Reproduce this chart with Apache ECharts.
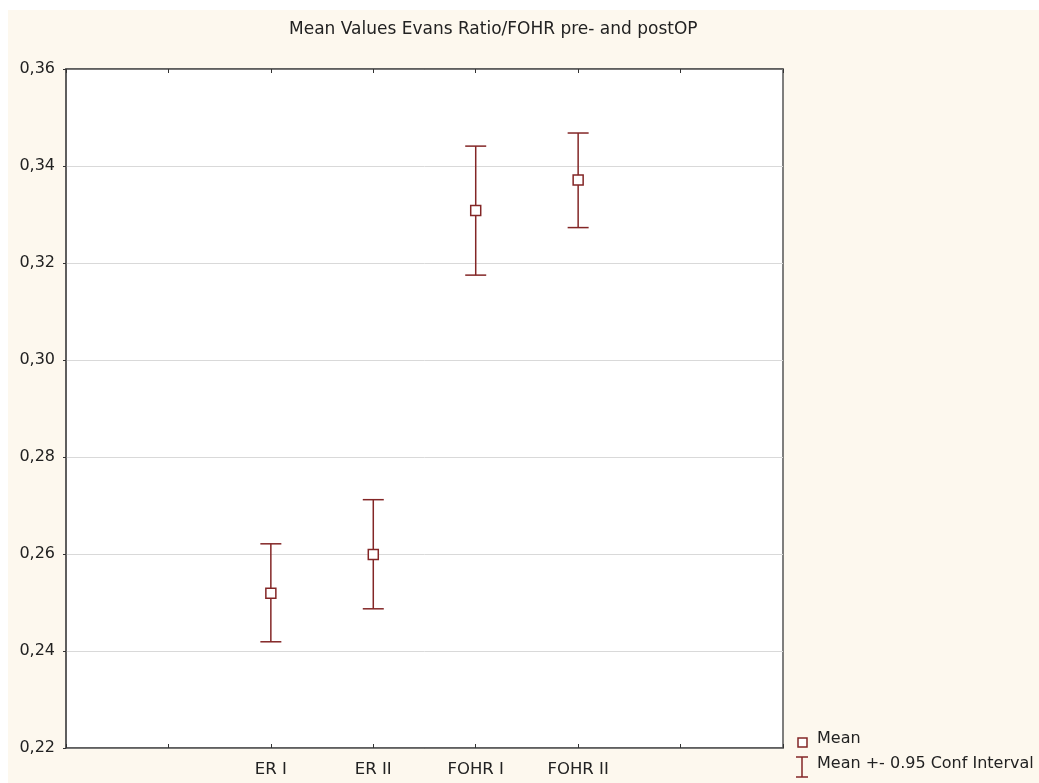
<!DOCTYPE html>
<html>
<head>
<meta charset="utf-8">
<script src="https://cdn.jsdelivr.net/npm/echarts@6/dist/echarts.min.js"></script>
<style>
html,body{margin:0;padding:0;background:#fff;width:1039px;height:783px;overflow:hidden;}
#chart{position:absolute;left:8px;top:10px;width:1031px;height:773px;}
</style>
</head>
<body>
<div id="chart"></div>
<script>
const titleText = 'Mean Values Evans Ratio/FOHR pre- and postOP';
const categories = ['ER I', 'ER II', 'FOHR I', 'FOHR II'];
const axisSlots = ['', '', 'ER I', 'ER II', 'FOHR I', 'FOHR II', '', ''];
const meanValues = [0.2519, 0.2599, 0.3308, 0.3371];
const lowerCI = [0.2419, 0.2487, 0.3175, 0.3273];
const upperCI = [0.2621, 0.2712, 0.3441, 0.3468];
const yMin = 0.22, yMax = 0.36, yStep = 0.02;
const legendNames = ['Mean', 'Mean +- 0.95 Conf Interval'];

const red = '#832626';
const font = '"DejaVu Sans", Arial, sans-serif';

const chart = echarts.init(document.getElementById('chart'));

const errData = categories.map((c, i) => [c, lowerCI[i], upperCI[i]]);
const meanData = categories.map((c, i) => [c, meanValues[i]]);

chart.setOption({
  backgroundColor: '#fdf8ee',
  animation: false,
  textStyle: { fontFamily: font },
  grid: {
    left: 58, right: 256, top: 59, bottom: 35,
    show: true, backgroundColor: '#ffffff', borderColor: '#555', borderWidth: 1.5
  },
  xAxis: [{
    type: 'category',
    data: axisSlots,
    boundaryGap: false,
    axisLine: { lineStyle: { color: '#555', width: 1.5 } },
    axisTick: { inside: true, length: 4, lineStyle: { color: '#333' }, interval: 0 },
    axisLabel: { color: '#222', fontSize: 16.5, margin: 13, interval: 0, fontFamily: font },
    splitLine: { show: false }
  }, {
    type: 'category',
    position: 'top',
    data: axisSlots,
    boundaryGap: false,
    axisLine: { lineStyle: { color: '#555', width: 1.5 } },
    axisTick: { inside: true, length: 4, lineStyle: { color: '#333' }, interval: 0 },
    axisLabel: { show: false },
    splitLine: { show: false }
  }],
  yAxis: {
    type: 'value',
    min: yMin, max: yMax, interval: yStep,
    axisLine: { show: true, lineStyle: { color: '#555', width: 1.5 } },
    axisTick: { show: true, length: 3, lineStyle: { color: '#333' } },
    axisLabel: {
      color: '#222', fontSize: 16, margin: 11, fontFamily: font,
      formatter: v => v.toFixed(2).replace('.', ',')
    },
    splitLine: { show: true, lineStyle: { color: '#d9d9d9', width: 1 } }
  },
  graphic: [
    { type: 'text', left: 281, top: 11,
      style: { text: titleText, font: '17px ' + font, fill: '#222' } },
    { type: 'rect', shape: { x: 790, y: 728, width: 9, height: 9 },
      style: { fill: '#fff', stroke: red, lineWidth: 1.5 } },
    { type: 'text', x: 809, y: 729, style: { text: legendNames[0], font: '16px ' + font, fill: '#222', verticalAlign: 'middle' } },
    { type: 'polyline', shape: { points: [[788, 747], [800, 747]] }, style: { stroke: red, lineWidth: 1.5 } },
    { type: 'polyline', shape: { points: [[794, 747], [794, 767]] }, style: { stroke: red, lineWidth: 1.5 } },
    { type: 'polyline', shape: { points: [[788, 767], [800, 767]] }, style: { stroke: red, lineWidth: 1.5 } },
    { type: 'text', x: 809, y: 754, style: { text: legendNames[1], font: '16px ' + font, fill: '#222', verticalAlign: 'middle' } }
  ],
  series: [{
    type: 'custom',
    name: legendNames[1],
    data: errData,
    z: 2,
    renderItem: function (params, api) {
      const x = api.value(0);
      const lo = api.coord([x, api.value(1)]);
      const hi = api.coord([x, api.value(2)]);
      const hw = 10.5;
      const st = { stroke: red, lineWidth: 1.5, fill: null };
      return {
        type: 'group',
        children: [
          { type: 'line', shape: { x1: lo[0], y1: lo[1], x2: hi[0], y2: hi[1] }, style: st },
          { type: 'line', shape: { x1: lo[0] - hw, y1: lo[1], x2: lo[0] + hw, y2: lo[1] }, style: st },
          { type: 'line', shape: { x1: hi[0] - hw, y1: hi[1], x2: hi[0] + hw, y2: hi[1] }, style: st }
        ]
      };
    }
  }, {
    type: 'scatter',
    name: legendNames[0],
    data: meanData,
    z: 3,
    symbol: 'rect',
    symbolSize: 10,
    itemStyle: { color: '#fff', borderColor: red, borderWidth: 1.5, opacity: 1 }
  }]
});
</script>
</body>
</html>
